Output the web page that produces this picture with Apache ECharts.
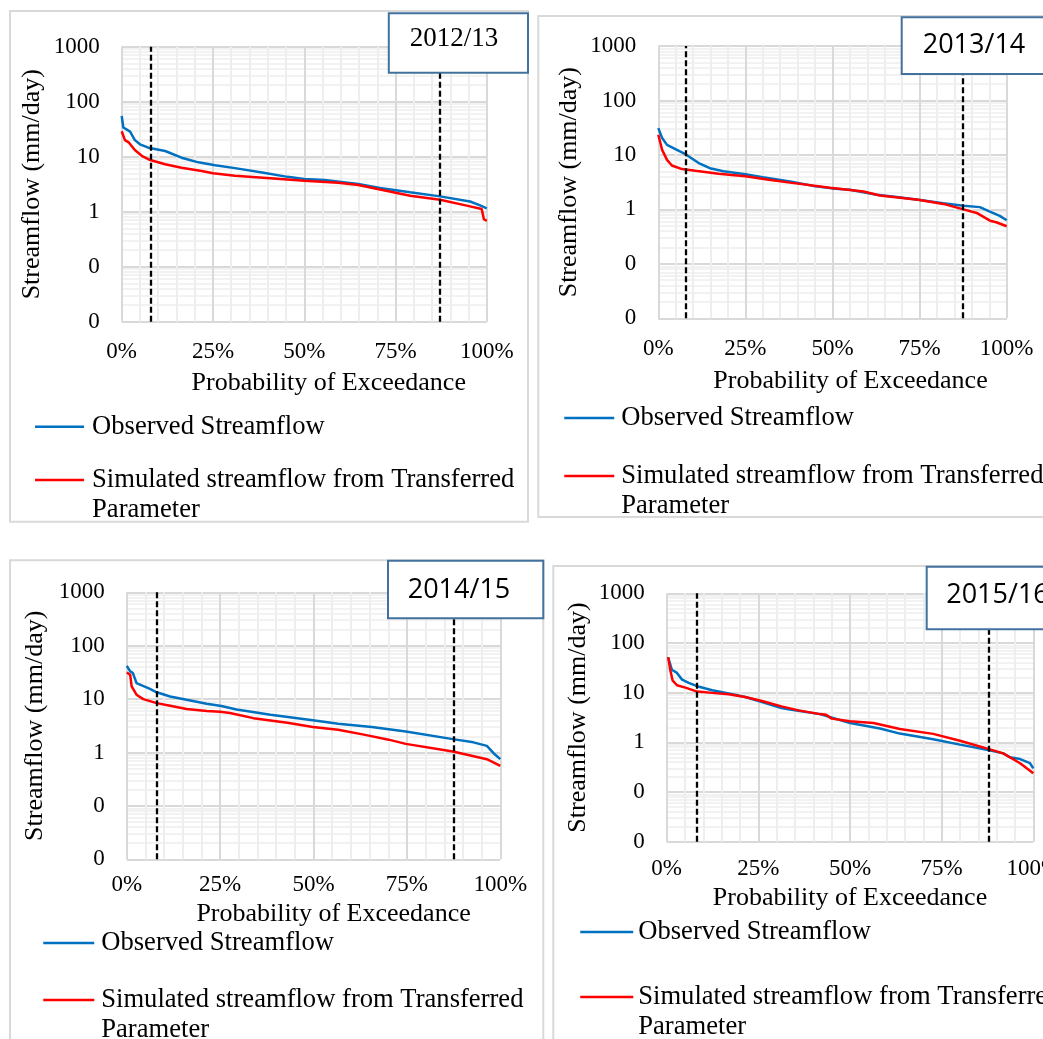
<!DOCTYPE html>
<html>
<head>
<meta charset="utf-8">
<script src="https://cdn.jsdelivr.net/npm/echarts@6/dist/echarts.min.js"></script>
<style>
  html, body { margin: 0; padding: 0; background: #ffffff; }
  #chart { width: 1043px; height: 1039px; }
</style>
</head>
<body>
<div id="chart"></div>
<script>
// Flow duration curves: observed vs. simulated streamflow (transferred parameters), four water years.

const OBS = 'Observed Streamflow';
const SIM = 'Simulated streamflow from Transferred Parameter';

const panelTitles = ['2012/13', '2013/14', '2014/15', '2015/16'];

// y ticks of the log axis and the text shown for them
const yTicks = [0.01, 0.1, 1, 10, 100, 1000];
const yTickLabels = ['0', '0', '1', '10', '100', '1000'];

// [exceedance probability (%), streamflow (mm/day)]
const observed_2012_13 = [[0,55],[0.45,34],[2.3,28.5],[3.6,20],[5,16.8],[7.3,14.6],[11.9,12.7],[16.4,9.6],[21,7.9],[25.6,7.0],[31,6.2],[38.9,5.1],[45.4,4.3],[50,3.93],[55.5,3.77],[64.8,3.19],[70.7,2.7],[79,2.25],[87.2,1.9],[95.4,1.53],[98,1.32],[100,1.15]];
const simulated_2012_13 = [[0,29],[0.9,20],[2,18],[3.6,13.2],[5.5,10.4],[7.8,8.7],[11.9,7.3],[16.4,6.3],[21.9,5.5],[25,5.0],[31,4.5],[40.7,4.05],[50,3.66],[59.3,3.37],[64.8,3.06],[70.4,2.55],[79,1.95],[87.2,1.65],[94.5,1.29],[98.6,1.12],[99.2,0.73],[100,0.68]];

const observed_2013_14 = [[0,31],[1.1,20.4],[2.5,15.3],[4.9,12.8],[7.8,10.3],[11.6,7.1],[14.8,5.7],[18.7,5.0],[25,4.4],[30,3.9],[37.8,3.25],[44.5,2.7],[49.8,2.43],[55,2.3],[62.7,1.86],[68.4,1.68],[74.6,1.5],[81.8,1.3],[87.6,1.17],[92.3,1.1],[95,0.92],[98,0.76],[100,0.63]];
const simulated_2013_14 = [[0,23.4],[1.1,12.4],[2.5,8.1],[3.9,6.4],[6.8,5.5],[10.6,5.1],[17.3,4.5],[25,4.05],[31.7,3.5],[37.8,3.1],[49.3,2.5],[58.9,2.13],[63.6,1.8],[74.6,1.5],[81.8,1.26],[87.6,1.0],[91.4,0.86],[95.2,0.62],[97,0.58],[100,0.49]];

const observed_2014_15 = [[0,42],[0.9,33],[1.6,31],[2.6,20],[4,18],[6.2,15.5],[8,13.4],[11.6,11.2],[16,9.7],[21.4,8.2],[25.3,7.4],[29.4,6.4],[38.5,5.1],[49.8,4.0],[56.6,3.45],[65.6,3.0],[74.7,2.47],[87.3,1.78],[92.8,1.55],[96.4,1.33],[98.2,0.97],[100,0.75]];
const simulated_2014_15 = [[0,31.6],[0.9,28.6],[1.3,17.3],[2.6,12.1],[4.4,10],[8,8.4],[11.6,7.5],[16,6.5],[21.4,6.0],[25,5.8],[27.6,5.5],[33.9,4.4],[43,3.6],[49.8,3.0],[56.6,2.66],[63.8,2.14],[70.1,1.74],[74.7,1.45],[87.3,1.04],[96.4,0.75],[100,0.56]];

const observed_2015_16 = [[0.4,51],[1.4,29],[2.8,25],[4.2,18.3],[6,15.7],[8.3,13.5],[12.4,11.2],[16.9,9.6],[21.4,8.2],[26,6.5],[31.3,4.9],[33.6,4.6],[41.8,3.7],[50,2.45],[58.2,1.9],[63.6,1.5],[72.7,1.15],[80,0.9],[87.7,0.7],[91.8,0.6],[93.6,0.5],[96.4,0.46],[99.1,0.38],[100,0.3]];
const simulated_2015_16 = [[0.4,52],[1,28],[1.6,17.7],[2.8,14.1],[5.1,12.6],[8.3,10.5],[12.4,9.9],[16.9,9.3],[21.4,8.2],[26,6.8],[31.3,5.3],[36,4.4],[41.8,3.7],[43.5,3.6],[45,3.0],[50,2.65],[56.4,2.45],[63.6,1.86],[72.7,1.48],[80,1.08],[87.7,0.74],[91.8,0.6],[96.4,0.38],[100,0.24]];

// dashed reference lines (exceedance %)
const marks_2012_13 = [7.9, 87.2];
const marks_2013_14 = [7.9, 87.4];
const marks_2014_15 = [7.9, 87.6];
const marks_2015_16 = [8.2, 87.9];

const panels = [
  { title: panelTitles[0], obs: observed_2012_13, sim: simulated_2012_13, marks: marks_2012_13 },
  { title: panelTitles[1], obs: observed_2013_14, sim: simulated_2013_14, marks: marks_2013_14 },
  { title: panelTitles[2], obs: observed_2014_15, sim: simulated_2014_15, marks: marks_2014_15 },
  { title: panelTitles[3], obs: observed_2015_16, sim: simulated_2015_16, marks: marks_2015_16 }
];

// ---- layout & style ----
const SERIF = '"Liberation Serif", "Times New Roman", serif';
const SANS = '"Open Sans", "Noto Sans", sans-serif';
const BLUE = '#0070C0';
const RED = '#FF0000';
const MAJOR = '#D9D9D9';
const MINOR = '#EEEEEE';
const LEGEND_FONT = 26.6;

const layouts = [
  { grid: [121.7, 46.7, 365.1, 275], yNameGap: 77, xLabelMargin: 18.5, xNameGap: 48, xNameShift: 24.5,
    legend: { left: 33.8, top: 411.7, gap: -6.7, itemWidth: 49, textPad: 3 },
    frame: [10, 11, 518, 510.7], box: [388.8, 13.3, 139.2, 59.4], titleAt: [454, 38.5], titleFont: SERIF },
  { grid: [658.3, 46, 348.4, 272.3], yNameGap: 76, xLabelMargin: 19, xNameGap: 50, xNameShift: 18,
    legend: { left: 563, top: 403, gap: -2, itemWidth: 50, textPad: 2 },
    frame: [538.3, 16, 520, 501], box: [901.7, 17.3, 160, 56.7], titleAt: [974, 45.5], titleFont: SANS },
  { grid: [126.8, 592.3, 373.5, 267], yNameGap: 79, xLabelMargin: 14, xNameGap: 42, xNameShift: 20,
    legend: { left: 42, top: 928, gap: -3, itemWidth: 51, textPad: 2 },
    frame: [10, 560.3, 533.3, 500], box: [388, 560.7, 155.3, 57.6], titleAt: [459, 590], titleFont: SANS },
  { grid: [666.7, 593.3, 366.6, 248.4], yNameGap: 75.4, xLabelMargin: 16, xNameGap: 43, xNameShift: 0,
    legend: { left: 579, top: 917, gap: 5, itemWidth: 53, textPad: 0 },
    frame: [553.3, 566, 520, 500], box: [926.7, 566.7, 160, 62.6], titleAt: [997.5, 595], titleFont: SANS }
];

// minor gridlines of the log axis: 2..9 within every decade
const minorLogLines = [];
for (let e = -2; e < 3; e++) {
  for (let m = 2; m < 10; m++) minorLogLines.push(m * Math.pow(10, e));
}

function yLabel(v) {
  const k = yTicks.findIndex(t => Math.abs(Math.log10(v / t)) < 1e-6);
  return k >= 0 ? yTickLabels[k] : '';
}

const grids = [], xAxes = [], yAxes = [], series = [], legends = [], graphics = [];

panels.forEach((p, i) => {
  const L = layouts[i];
  grids.push({ left: L.grid[0], top: L.grid[1], width: L.grid[2], height: L.grid[3],
               containLabel: false, outerBoundsMode: 'none' });

  xAxes.push({
    gridIndex: i, type: 'value', min: 0, max: 100, interval: 25, z: 2,
    axisLine: { show: false }, axisTick: { show: false },
    axisLabel: { formatter: '{value}%', fontSize: 23, color: '#000', margin: L.xLabelMargin, fontFamily: SERIF,
                 alignMinLabel: 'center', alignMaxLabel: 'center' },
    splitLine: { show: true, lineStyle: { color: MAJOR, width: 2 } },
    minorTick: { show: false, splitNumber: 5 },
    minorSplitLine: { show: true, lineStyle: { color: MINOR, width: 2 } },
    name: 'Probability of Exceedance', nameLocation: 'middle', nameGap: L.xNameGap,
    nameTextStyle: { fontSize: 26, color: '#000', fontFamily: SERIF, padding: [0, 0, 0, L.xNameShift * 2] }
  });

  yAxes.push({
    gridIndex: i, type: 'log', logBase: 10, min: 0.01, max: 1000, z: 2,
    axisLine: { show: false }, axisTick: { show: false },
    axisLabel: { fontSize: 23, color: '#000', margin: 22, fontFamily: SERIF, formatter: yLabel },
    splitLine: { show: true, lineStyle: { color: MAJOR, width: 2 } },
    name: 'Streamflow (mm/day)', nameLocation: 'middle', nameGap: L.yNameGap,
    nameTextStyle: { fontSize: 26, color: '#000', fontFamily: SERIF }
  });

  series.push({
    name: 'log minor grid', type: 'line', xAxisIndex: i, yAxisIndex: i, data: [], silent: true, z: 1,
    markLine: {
      silent: true, symbol: 'none', z: 1, label: { show: false },
      lineStyle: { color: MINOR, width: 1.5, type: 'solid' },
      emphasis: { disabled: true },
      data: minorLogLines.map(v => ({ yAxis: v }))
    }
  });

  series.push({
    name: OBS, type: 'line', xAxisIndex: i, yAxisIndex: i, data: p.obs,
    symbol: 'none', z: 3, lineStyle: { color: BLUE, width: 2.5 }, itemStyle: { color: BLUE },
    emphasis: { disabled: true }
  });

  series.push({
    name: SIM, type: 'line', xAxisIndex: i, yAxisIndex: i, data: p.sim,
    symbol: 'none', z: 3, lineStyle: { color: RED, width: 2.5 }, itemStyle: { color: RED },
    emphasis: { disabled: true },
    markLine: {
      silent: true, symbol: 'none', z: 5, label: { show: false },
      lineStyle: { color: '#000', width: 2.3, type: [6, 3] },
      emphasis: { disabled: true },
      data: p.marks.map(v => ({ xAxis: v }))
    }
  });

  legends.push({
    data: [OBS, SIM], orient: 'vertical', left: L.legend.left, top: L.legend.top,
    height: 220, itemGap: L.legend.gap, padding: 0, itemWidth: L.legend.itemWidth, itemHeight: 14,
    selectedMode: false,
    itemStyle: { opacity: 0 },
    lineStyle: { width: 2.5 },
    textStyle: { fontSize: LEGEND_FONT, fontFamily: SERIF, color: '#000', lineHeight: 30, padding: [0, 0, 0, L.legend.textPad] },
    formatter: name => name === SIM ? '\nSimulated streamflow from Transferred\nParameter' : name
  });

  // chart frame
  graphics.push({
    type: 'rect', z: 0, silent: true,
    shape: { x: L.frame[0], y: L.frame[1], width: L.frame[2], height: L.frame[3] },
    style: { fill: 'none', stroke: MAJOR, lineWidth: 2 }
  });
  // year box
  graphics.push({
    type: 'rect', z: 10, silent: true,
    shape: { x: L.box[0], y: L.box[1], width: L.box[2], height: L.box[3] },
    style: { fill: '#ffffff', stroke: '#41719C', lineWidth: 2 }
  });
  graphics.push({
    type: 'text', z: 11, silent: true, x: L.titleAt[0], y: L.titleAt[1],
    style: { text: p.title, fontSize: 27, fontFamily: L.titleFont, fill: '#000', align: 'center', verticalAlign: 'middle' }
  });
});

const chart = echarts.init(document.getElementById('chart'), null, { renderer: 'canvas' });
chart.setOption({
  backgroundColor: '#ffffff',
  animation: false,
  textStyle: { fontFamily: SERIF },
  grid: grids,
  xAxis: xAxes,
  yAxis: yAxes,
  legend: legends,
  series: series,
  graphic: { elements: graphics }
});
</script>
</body>
</html>
